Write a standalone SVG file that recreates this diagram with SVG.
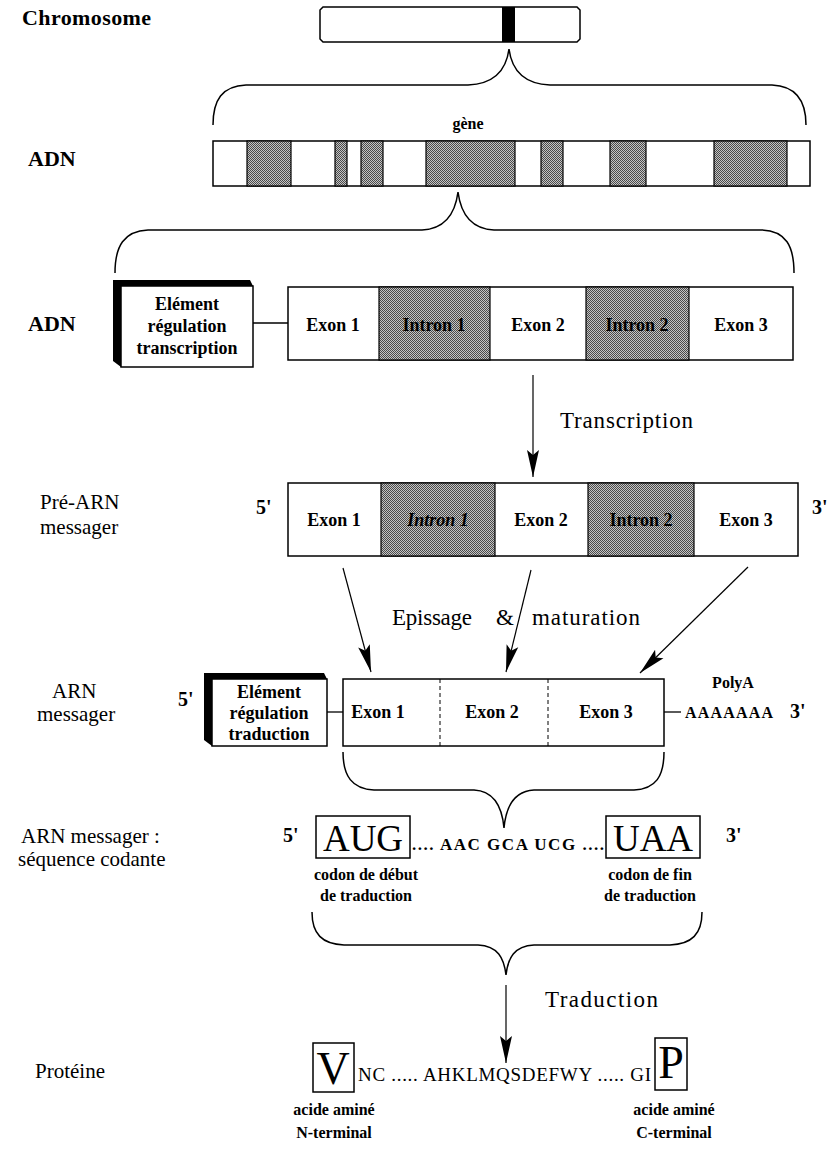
<svg xmlns="http://www.w3.org/2000/svg" width="836" height="1151" viewBox="0 0 836 1151">
  <style>
    text { font-family: "Liberation Serif", "Times New Roman", serif; fill: #000; }
    .lbl { font-size: 21px; }
    .lblb { font-size: 22px; font-weight: bold; }
    .box { font-size: 18px; font-weight: bold; text-anchor: middle; }
    .sm { font-size: 16px; font-weight: bold; text-anchor: middle; }
    .big { font-size: 23px; }
    .prime { font-size: 20px; font-weight: bold; }
    .outline { fill: #fff; stroke: #000; stroke-width: 1.5; }
    .shade { fill: url(#dots); stroke: #000; stroke-width: 1.2; }
    .dash { stroke: #000; stroke-width: 1; stroke-dasharray: 4 3; }
    .brace { fill: none; stroke: #000; stroke-width: 1.5; }
    .link { fill: none; stroke: #000; stroke-width: 1.3; }
    .arrow { fill: none; stroke: #000; stroke-width: 1.2; marker-end: url(#head); }
    .codon { font-size: 37px; text-anchor: middle; }
    .aa { font-size: 46px; text-anchor: middle; }
  </style>
  <defs>
    <pattern id="dots" width="2" height="2" patternUnits="userSpaceOnUse">
      <rect width="2" height="2" fill="#c4c4c4"/>
      <rect width="1" height="1" fill="#4a4a4a"/>
      <rect x="1" y="1" width="1" height="1" fill="#4a4a4a"/>
    </pattern>
    <marker id="head" markerUnits="userSpaceOnUse" markerWidth="30" markerHeight="14" refX="27" refY="6.5" orient="auto">
      <path d="M0,0.5 L27,6.5 L0,12.5 L5,6.5 Z" fill="#000"/>
    </marker>
  </defs>

  <!-- chromosome -->
  <g id="chromosome">
    <text class="lblb" x="22" y="25" textLength="129">Chromosome</text>
    <path class="outline" d="M323,7 L577,7 L580,10 L580,39 L577,42 L323,42 L320,39 L320,10 Z"/>
    <rect x="502" y="7" width="13" height="35" fill="#000"/>
  </g>

  <!-- gene within the DNA -->
  <g id="gene">
    <text class="sm" x="468" y="129">gène</text>
    <text class="lblb" x="28" y="166">ADN</text>
    <rect class="outline" x="213" y="141" width="597" height="45"/>
    <rect class="shade" x="247" y="141" width="44" height="45"/>
    <rect class="shade" x="335" y="141" width="12" height="45"/>
    <rect class="shade" x="361" y="141" width="22" height="45"/>
    <rect class="shade" x="426" y="141" width="89" height="45"/>
    <rect class="shade" x="541" y="141" width="22" height="45"/>
    <rect class="shade" x="610" y="141" width="36" height="45"/>
    <rect class="shade" x="714" y="141" width="73" height="45"/>
  </g>

  <!-- gene structure -->
  <g id="adn-structure">
    <text class="lblb" x="28" y="331">ADN</text>
    <polygon points="113,280 250,280 253,286 121,286 121,367 113,361" fill="#000"/>
    <rect class="outline" x="121" y="286" width="132" height="81"/>
    <text class="box" x="187" y="310">Elément</text>
    <text class="box" x="187" y="332">régulation</text>
    <text class="box" x="187" y="354">transcription</text>
    <rect class="outline" x="288" y="287" width="505" height="73"/>
    <rect class="shade" x="379" y="287" width="111" height="73"/>
    <rect class="shade" x="586" y="287" width="103" height="73"/>
    <text class="box" x="333" y="331">Exon 1</text>
    <text class="box" x="434" y="331">Intron 1</text>
    <text class="box" x="538" y="331">Exon 2</text>
    <text class="box" x="637" y="331">Intron 2</text>
    <text class="box" x="741" y="331">Exon 3</text>
  </g>

  <!-- pre-messenger RNA -->
  <g id="pre-arn">
    <text class="lbl" x="40" y="509">Pré-ARN</text>
    <text class="lbl" x="40" y="534">messager</text>
    <text class="prime" x="256" y="514">5'</text>
    <text class="prime" x="812" y="514">3'</text>
    <rect class="outline" x="288" y="483" width="510" height="73"/>
    <rect class="shade" x="381" y="483" width="114" height="73"/>
    <rect class="shade" x="588" y="483" width="106" height="73"/>
    <text class="box" x="334" y="526">Exon 1</text>
    <text class="box" x="438" y="526" font-style="italic">Intron 1</text>
    <text class="box" x="541" y="526">Exon 2</text>
    <text class="box" x="641" y="526">Intron 2</text>
    <text class="box" x="746" y="526">Exon 3</text>
  </g>

  <!-- mature messenger RNA -->
  <g id="arn-messager">
    <text class="lbl" x="52" y="698">ARN</text>
    <text class="lbl" x="37" y="721">messager</text>
    <text class="prime" x="178" y="706">5'</text>
    <polygon points="204,673 324,673 327,679 212,679 212,746 204,740" fill="#000"/>
    <rect class="outline" x="212" y="679" width="115" height="67"/>
    <text class="box" x="269" y="698">Elément</text>
    <text class="box" x="269" y="719">régulation</text>
    <text class="box" x="269" y="740">traduction</text>
    <rect class="outline" x="343" y="679" width="321" height="67"/>
    <line class="dash" x1="440" y1="679" x2="440" y2="746"/>
    <line class="dash" x1="548" y1="679" x2="548" y2="746"/>
    <text class="box" x="378" y="718">Exon 1</text>
    <text class="box" x="492" y="718">Exon 2</text>
    <text class="box" x="606" y="718">Exon 3</text>
    <text class="sm" x="733" y="688">PolyA</text>
    <text class="sm" x="729" y="718" textLength="88">AAAAAAA</text>
    <text class="prime" x="790" y="718">3'</text>
  </g>

  <!-- coding sequence -->
  <g id="sequence-codante">
    <text class="lbl" x="21" y="843">ARN messager :</text>
    <text class="lbl" x="18" y="866">séquence codante</text>
    <text class="prime" x="283" y="842">5'</text>
    <rect class="outline" x="316" y="816" width="94" height="42"/>
    <text class="codon" x="363" y="851">AUG</text>
    <text x="412" y="850" font-size="17" font-weight="bold" textLength="192">.... AAC GCA UCG ....</text>
    <rect class="outline" x="606" y="816" width="94" height="42"/>
    <text class="codon" x="653" y="851">UAA</text>
    <text class="prime" x="726" y="842">3'</text>
    <text class="sm" x="366" y="880">codon de début</text>
    <text class="sm" x="366" y="901">de traduction</text>
    <text class="sm" x="650" y="880">codon de fin</text>
    <text class="sm" x="650" y="901">de traduction</text>
  </g>

  <!-- protein -->
  <g id="proteine">
    <text class="lbl" x="35" y="1078">Protéine</text>
    <rect class="outline" x="313" y="1043" width="41" height="49"/>
    <text class="aa" x="333" y="1084">V</text>
    <text x="358" y="1081" font-size="19" textLength="293">NC ..... AHKLMQSDEFWY ..... GI</text>
    <rect class="outline" x="655" y="1038" width="32" height="52"/>
    <text class="aa" x="671" y="1078">P</text>
    <text class="sm" x="334" y="1115">acide aminé</text>
    <text class="sm" x="334" y="1138">N-terminal</text>
    <text class="sm" x="674" y="1115">acide aminé</text>
    <text class="sm" x="674" y="1138">C-terminal</text>
  </g>

  <!-- step labels -->
  <g id="steps">
    <text class="big" x="560" y="428" textLength="133">Transcription</text>
    <text class="big" x="392" y="625" textLength="80">Epissage</text>
    <text class="big" x="496" y="625">&amp;</text>
    <text class="big" x="532" y="625" textLength="108">maturation</text>
    <text class="big" x="545" y="1007" textLength="113">Traduction</text>
  </g>

  <!-- braces, links and arrows -->
  <g id="connectors">
    <path class="brace" d="M213,125 C213,100 222,86 246,85 L468,85 C492,84 506,72 509,49 C512,72 526,84 550,85 L772,85 C796,86 806,100 806,125"/>
    <path class="brace" d="M115,273 C115,246 124,231 148,230 L422,230 C444,229 455,215 458,192 C461,215 472,229 494,230 L762,230 C786,231 794,246 794,273"/>
    <path class="brace" d="M343,752 C343,776 352,789 374,790 L474,790 C494,791 502,806 504,828 C506,806 514,791 534,790 L634,790 C656,789 664,776 664,752"/>
    <path class="brace" d="M312,912 C312,934 322,944 344,945 L478,945 C498,946 504,958 506,975 C508,958 514,946 534,945 L670,945 C692,944 702,934 702,912"/>
    <line class="link" x1="253" y1="323" x2="288" y2="323"/>
    <line class="link" x1="327" y1="712" x2="343" y2="712"/>
    <line class="link" x1="664" y1="712" x2="681" y2="712"/>
    <line class="arrow" x1="533" y1="375" x2="533" y2="477"/>
    <line class="arrow" x1="343" y1="568" x2="371" y2="672"/>
    <line class="arrow" x1="531" y1="570" x2="506" y2="672"/>
    <line class="arrow" x1="748" y1="567" x2="640" y2="673"/>
    <line class="arrow" x1="506" y1="985" x2="506" y2="1063"/>
  </g>
</svg>
